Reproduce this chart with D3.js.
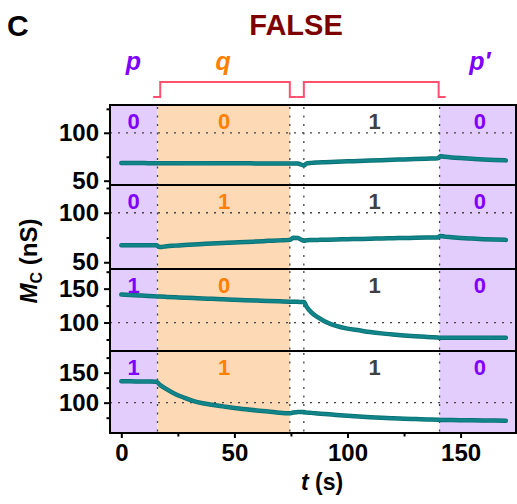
<!DOCTYPE html>
<html>
<head>
<meta charset="utf-8">
<script src="https://cdn.jsdelivr.net/npm/d3@7"></script>
<style>
  body { margin: 0; background: #fff; }
  text { font-family: "Liberation Sans", Arial, sans-serif; font-weight: bold; }
</style>
</head>
<body>
<svg width="517" height="504"></svg>
<script>
// time grid (s) shared by all four traces
var times = [0, 4, 8, 12, 15.5, 17, 20, 24, 28, 32, 36, 40, 45, 50, 55, 60, 65, 70, 74.5, 76, 78,
  80.7, 82, 84, 87, 90, 95, 100, 105, 110, 115, 120, 125, 130, 135, 140, 141, 143, 146, 150, 155, 160, 165, 170];

// M_C (nS) for each panel, top to bottom
var mc00 = [68.4, 68.4, 68.4, 68.3, 68.3, 68.3, 68.3, 68.3, 68.2, 68.2, 68.2, 68.2, 68.1, 68.1, 68.1, 68.0, 68.0, 68.0, 68.0, 68.0, 67.9,
  65.9, 68.0, 68.6, 69.0, 69.3, 69.8, 70.2, 70.6, 71.0, 71.4, 71.8, 72.2, 72.6, 73.0, 73.4, 75.6, 75.0, 74.3, 73.6, 72.9, 72.2, 71.6, 71.2];
var mc01 = [67.3, 67.3, 67.3, 67.2, 67.1, 65.3, 66.2, 66.8, 67.4, 67.9, 68.4, 68.9, 69.4, 69.9, 70.5, 71.0, 71.6, 72.1, 72.6, 74.8, 74.5,
  71.8, 72.2, 72.4, 72.6, 72.8, 73.0, 73.3, 73.5, 73.8, 74.0, 74.3, 74.5, 74.7, 74.9, 75.1, 76.6, 75.9, 75.3, 74.6, 73.9, 73.3, 72.9, 72.6];
var mc10 = [141.2, 140.6, 140.0, 139.3, 138.6, 138.3, 137.8, 137.2, 136.6, 136.1, 135.5, 135.0, 134.3, 133.6, 133.0, 132.4, 131.8, 131.3, 130.8, 130.6, 130.5,
  130.3, 123, 115, 107.5, 101.5, 95, 91, 88.5, 86, 84, 82.4, 81, 79.8, 78.8, 77.8, 77.6, 77.6, 77.6, 77.6, 77.6, 77.6, 77.5, 77.5];
var mc11 = [135.5, 135.5, 135.3, 135.2, 135.0, 130, 122.5, 114, 108, 102.5, 99, 96.5, 93.8, 91.2, 89, 87, 85.3, 83.2, 82.3, 83.8, 84.3,
  84.6, 83.4, 83, 82, 81, 79.6, 78.2, 76.9, 75.8, 74.8, 74.0, 73.3, 72.6, 72.0, 71.5, 71.3, 71.2, 71.0, 70.8, 70.6, 70.4, 70.2, 70.0];

var traces = [mc00, mc01, mc10, mc11];

// logic input labels per panel: p, q, (q off), p'
var pLabels = ["0", "0", "1", "1"];
var qLabels = ["0", "1", "0", "1"];
var midLabels = ["1", "1", "1", "1"];
var p2Labels = ["0", "0", "0", "0"];

// y-axis domains and ticks per panel
var yDomains = [[45.5, 129], [43.2, 128], [58, 179], [49.5, 186]];
var yMajor = [[50, 100], [50, 100], [100, 150], [100, 150]];
var yMinor = [[75, 125], [75, 125], [75, 125, 175], [75, 125, 175]];

// stimulus periods (s)
var pEnd = 16, qEnd = 74.5, offStart = 80.7, p2Start = 140.7;
var xMajor = [0, 50, 100, 150], xMinor = [25, 75, 125];

var svg = d3.select("svg");
var left = 110, right = 516;
var panelTop = [105, 185, 269, 351], panelBot = [185, 269, 351, 433];

var x = d3.scaleLinear().domain([-5, 174.5]).range([left, right]);

var purple = "#e2cdfd", peach = "#fdd9b6", teal = "#10868a";
var pColor = "#8000ff", qColor = "#ff8000", midColor = "#404040";

// header
svg.append("text").attr("x", 7).attr("y", 36).attr("font-size", 30).text("C");
svg.append("text").attr("x", 296).attr("y", 35).attr("font-size", 29)
  .attr("text-anchor", "middle").attr("fill", "#7d0000").text("FALSE");

var hdr = [["p", 5.3, pColor], ["q", 45, qColor], ["p\u2032", 158.5, pColor]];
hdr.forEach(function (h) {
  svg.append("text").attr("x", x(h[1])).attr("y", 70).attr("font-size", 25)
    .attr("font-style", "italic").attr("text-anchor", "middle").attr("fill", h[2]).text(h[0]);
});

// brackets over q and the following on-period
function bracket(t0, t1) {
  var a = x(t0), b = x(t1);
  var path = d3.path();
  path.moveTo(a - 7, 97); path.lineTo(a, 97); path.lineTo(a, 82);
  path.lineTo(b, 82); path.lineTo(b, 97); path.lineTo(b + 7, 97);
  svg.append("path").attr("d", path.toString()).attr("fill", "none")
    .attr("stroke", "#ff5070").attr("stroke-width", 2);
}
bracket(17.2, qEnd);
bracket(offStart, 140.3);

var line = d3.line().curve(d3.curveMonotoneX)
  .x(function (d) { return x(d[0]); }).y(function (d) { return d[1]; });

traces.forEach(function (vals, i) {
  var y0 = panelTop[i], y1 = panelBot[i];
  var y = d3.scaleLinear().domain(yDomains[i]).range([y1, y0]);
  var g = svg.append("g");

  // shaded periods
  g.append("rect").attr("x", x(-5)).attr("y", y0).attr("width", x(pEnd) - x(-5)).attr("height", y1 - y0).attr("fill", purple);
  g.append("rect").attr("x", x(pEnd)).attr("y", y0).attr("width", x(qEnd) - x(pEnd)).attr("height", y1 - y0).attr("fill", peach);
  g.append("rect").attr("x", x(p2Start)).attr("y", y0).attr("width", x(174.5) - x(p2Start)).attr("height", y1 - y0).attr("fill", purple);

  // dotted guides
  g.append("line").attr("x1", left).attr("x2", right).attr("y1", y(100)).attr("y2", y(100))
    .attr("stroke", "#444").attr("stroke-width", 1.3).attr("stroke-dasharray", "2,6");
  [pEnd, qEnd, offStart, p2Start].forEach(function (t) {
    g.append("line").attr("x1", x(t)).attr("x2", x(t)).attr("y1", y0 + 2).attr("y2", y1)
      .attr("stroke", "#444").attr("stroke-width", 1.3).attr("stroke-dasharray", "2,6.5");
  });

  // trace
  var pts = times.map(function (t, k) { return [t, y(vals[k])]; });
  g.append("path").attr("d", line(pts)).attr("fill", "none").attr("stroke", "#0b6f72")
    .attr("stroke-width", 4.5).attr("stroke-linecap", "round").attr("stroke-linejoin", "round");
  g.append("path").attr("d", line(pts)).attr("fill", "none").attr("stroke", teal)
    .attr("stroke-width", 2.8).attr("stroke-linecap", "round").attr("stroke-linejoin", "round");

  // digit labels
  var labs = [[pLabels[i], 5.5, pColor], [qLabels[i], 45.5, qColor], [midLabels[i], 112, midColor], [p2Labels[i], 158.5, pColor]];
  labs.forEach(function (l) {
    g.append("text").attr("x", x(l[1])).attr("y", y0 + 24).attr("font-size", 22)
      .attr("text-anchor", "middle").attr("fill", l[2]).text(l[0]);
  });

  // y axis
  var ax = g.append("g").attr("transform", "translate(" + left + ",0)")
    .call(d3.axisLeft(y).tickValues(yMajor[i]).tickSize(6).tickPadding(5));
  ax.select(".domain").remove();
  ax.selectAll("line").attr("stroke-width", 2);
  ax.selectAll("text").attr("font-size", 24).attr("font-family", "Liberation Sans, Arial, sans-serif").attr("font-weight", "bold").attr("fill", "#000");
  var axm = g.append("g").attr("transform", "translate(" + left + ",0)")
    .call(d3.axisLeft(y).tickValues(yMinor[i].filter(function (v) { return y(v) > y0 && y(v) < y1; })).tickSize(3.5).tickFormat(""));
  axm.select(".domain").remove();
  axm.selectAll("line").attr("stroke-width", 2);

  // frame
  g.append("rect").attr("x", left).attr("y", y0).attr("width", right - left).attr("height", y1 - y0)
    .attr("fill", "none").attr("stroke", "#000").attr("stroke-width", 2);
});

// x axis
var xa = svg.append("g").attr("transform", "translate(0," + panelBot[3] + ")")
  .call(d3.axisBottom(x).tickValues(xMajor).tickSize(5).tickPadding(6));
xa.select(".domain").remove();
xa.selectAll("line").attr("stroke-width", 2);
xa.selectAll("text").attr("font-size", 24).attr("font-family", "Liberation Sans, Arial, sans-serif").attr("font-weight", "bold").attr("fill", "#000");
var xam = svg.append("g").attr("transform", "translate(0," + panelBot[3] + ")")
  .call(d3.axisBottom(x).tickValues(xMinor).tickSize(3.5).tickFormat(""));
xam.select(".domain").remove();
xam.selectAll("line").attr("stroke-width", 2);

// axis titles
var xt = svg.append("text").attr("x", 322).attr("y", 490).attr("font-size", 23).attr("text-anchor", "middle");
xt.append("tspan").attr("font-style", "italic").text("t");
xt.append("tspan").text(" (s)");

var yt = svg.append("text").attr("transform", "translate(37,261) rotate(-90)").attr("font-size", 24).attr("text-anchor", "middle");
yt.append("tspan").attr("font-style", "italic").text("M");
yt.append("tspan").attr("font-size", 16).attr("dy", 5).text("C");
yt.append("tspan").attr("dy", -5).text(" (nS)");
</script>
</body>
</html>
